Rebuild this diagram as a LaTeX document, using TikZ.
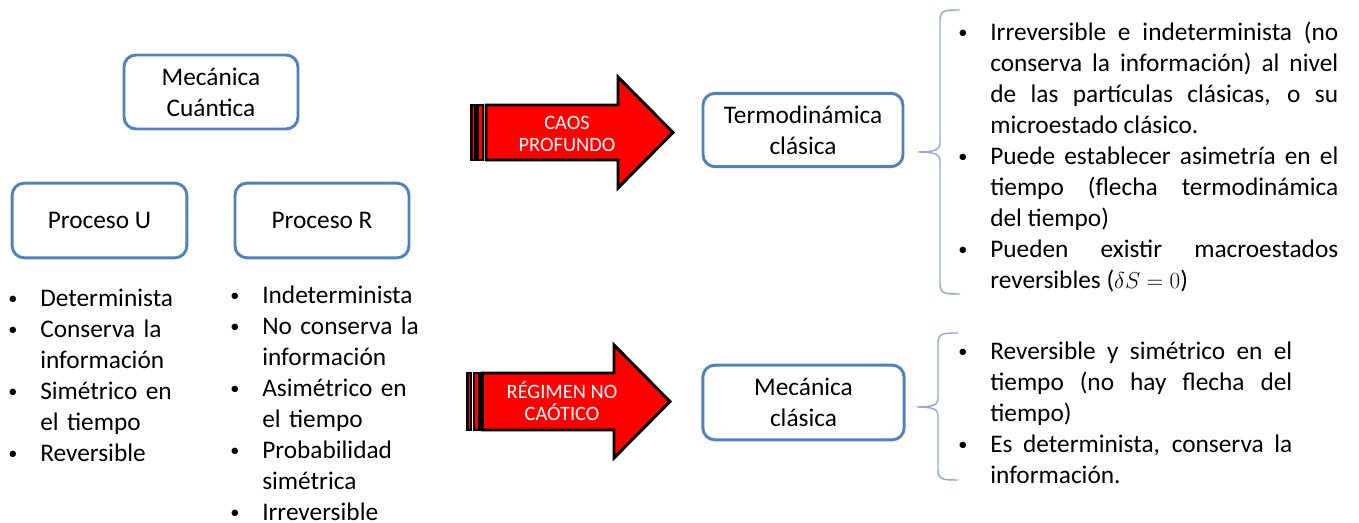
\documentclass[tikz,border=0pt]{standalone}
\usepackage{fontspec}
\setmainfont{Carlito}
\definecolor{boxblue}{RGB}{79,129,189}
\definecolor{braceblue}{RGB}{141,172,216}
\definecolor{arrred}{RGB}{255,0,0}
\newcommand{\nohyph}{\hyphenpenalty=10000\relax\exhyphenpenalty=10000\relax}
\newcommand{\mybullet}{\makebox[0pt]{\raisebox{0.08em}{\scalebox{0.72}{\textbullet}}}}
\newenvironment{blist}{\begin{list}{\mybullet}{%
  \setlength{\leftmargin}{21pt}\setlength{\labelsep}{20.5pt}%
  \setlength{\labelwidth}{0pt}\setlength{\itemindent}{0pt}%
  \setlength{\itemsep}{0pt}\setlength{\parsep}{0pt}%
  \setlength{\topsep}{0pt}\setlength{\partopsep}{0pt}%
  \setlength{\listparindent}{0pt}}}{\end{list}}
\tikzset{
  bluebox/.style={draw=boxblue, line width=2.2pt, rounded corners=9pt, fill=white,
    align=center, inner sep=0pt, font=\fontsize{19pt}{23.25pt}\selectfont},
  listtext/.style={anchor=north west, inner sep=0pt,
    font=\fontsize{19pt}{23.25pt}\selectfont},
  arrowbody/.style={fill=arrred, draw=black, line width=2.2pt, line join=miter},
  arrowtext/.style={text=white, align=center, inner sep=0pt,
    font=\fontsize{15.3pt}{16.5pt}\selectfont},
  bracestyle/.style={draw=braceblue, line width=1.1pt}
}
\begin{document}
\begin{tikzpicture}[x=0.75pt,y=-0.75pt]
\useasboundingbox (0,0) rectangle (1359,523);

% boxes
\node[bluebox, minimum width=130.5pt, minimum height=55.5pt] (mc) at (211,92) {Mecánica\\Cuántica};
\node[bluebox, minimum width=131pt, minimum height=56pt] (pu) at (99.5,220.5) {Proceso U};
\node[bluebox, minimum width=130.5pt, minimum height=56pt] (pr) at (322,220.5) {Proceso R};
\node[bluebox, minimum width=150pt, minimum height=55pt] (tc) at (803,130) {Termodinámica\\clásica};
\node[bluebox, minimum width=151pt, minimum height=56pt] (mcl) at (803.5,402.5) {Mecánica\\clásica};

% left lists
\node[listtext, text width=150pt] (lu) at (12,275) {\nohyph
\begin{blist}
\item \strut Determinista
\item Conserva la\newline información
\item Simétrico en\newline el tiempo
\item Reversible
\end{blist}};
\node[listtext, text width=150pt] (lr) at (234,272) {\nohyph
\begin{blist}
\item \strut Indeterminista
\item No conserva la\newline información
\item Asimétrico en\newline el tiempo
\item Probabilidad\newline simétrica
\item Irreversible
\end{blist}};

% upper arrow
\draw[arrowbody] (471.5,105) rectangle (475,160);
\draw[arrowbody] (477.5,105) rectangle (483,160);
\draw[arrowbody] (486,105) -- (618,105) -- (618,77) -- (673,132.5) -- (618,188) -- (618,160) -- (486,160) -- cycle;
\node[arrowtext] (caos) at (567,134) {CAOS\\PROFUNDO};

% lower arrow
\draw[arrowbody] (467.5,373) rectangle (471,430);
\draw[arrowbody] (474,373) rectangle (479.5,430);
\draw[arrowbody] (482.5,373) -- (614,373) -- (614,345) -- (670,401.5) -- (614,458) -- (614,430) -- (482.5,430) -- cycle;
\node[arrowtext] (regimen) at (562,401) {RÉGIMEN NO\\CAÓTICO};

% braces
\draw[bracestyle] (960,10) .. controls (946,10) and (940,10) .. (940,20) -- (940,143)
  .. controls (940,150) and (934,152) .. (918,152)
  .. controls (934,152) and (940,154) .. (940,161) -- (940,284)
  .. controls (940,294) and (946,294) .. (960,294);
\draw[bracestyle] (958,333) .. controls (944,333) and (938,333) .. (938,343) -- (938,399)
  .. controls (938,405) and (932,407) .. (917,407)
  .. controls (932,407) and (938,409) .. (938,415) -- (938,470)
  .. controls (938,480) and (944,480) .. (958,480);

% right lists
\node[listtext, text width=282pt, align=justify] (lt) at (962,9) {\nohyph
\begin{blist}
\item \strut Irreversible e indeterminista (no\linebreak conserva la información) al nivel\linebreak de las partículas clásicas, o su\linebreak microestado clásico.
\item Puede establecer asimetría en el\linebreak tiempo (flecha termodinámica\linebreak del tiempo)
\item Pueden existir macroestados\linebreak reversibles ($\delta S=0$)
\end{blist}};
\node[listtext, text width=247.5pt, align=justify] (lm) at (962,328) {\nohyph
\begin{blist}
\item \strut Reversible y simétrico en el\linebreak tiempo (no hay flecha del\linebreak tiempo)
\item Es determinista, conserva la\linebreak información.
\end{blist}};
\end{tikzpicture}
\end{document}
